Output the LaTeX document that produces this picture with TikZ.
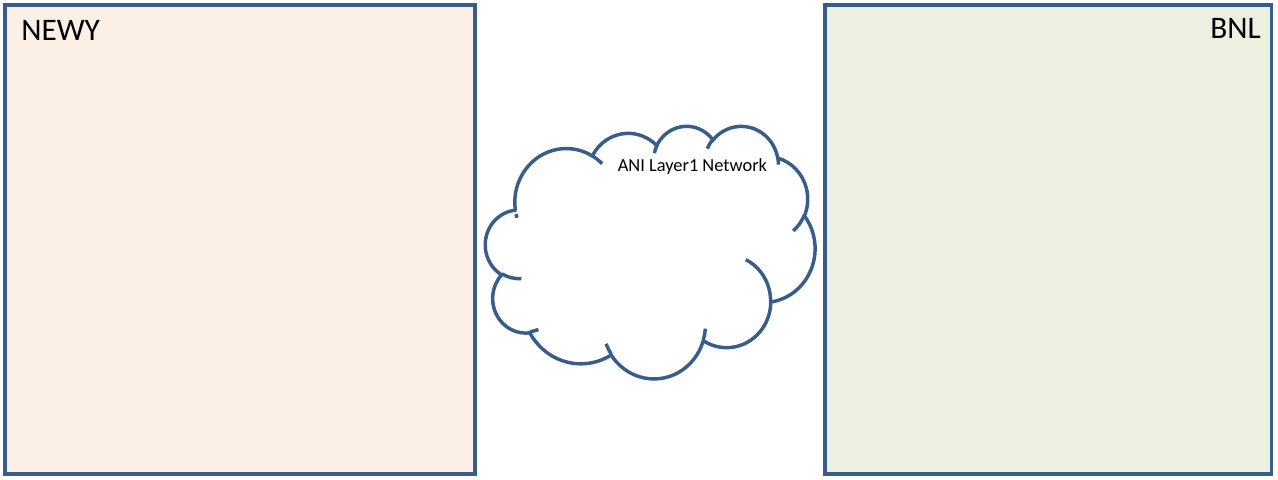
\documentclass[tikz,border=0pt]{standalone}
\usepackage{fontspec}
\setmainfont{Carlito}
\usepackage{tikz}
\usetikzlibrary{
  positioning,
}
\definecolor{siteline}{HTML}{385D8A}
\definecolor{newyfill}{HTML}{FCEFE6}
\definecolor{bnlfill}{HTML}{EBF0E1}
% OOXML arc: radii, visual start angle, sweep -> TikZ arc
\newcommand{\cloudarc}[4]{
  \pgfextra{
    \pgfmathsetmacro\cas{atan2(#1*sin(#3),#2*cos(#3))}
    \pgfmathsetmacro\cad{mod(atan2(#1*sin(#3+#4),#2*cos(#3+#4))-\cas+720,360)}
    \global\let\cas\cas
    \global\let\cad\cad
  }
  arc[start angle=\cas, delta angle=\cad, x radius=#1, y radius=#2]
}
\tikzset{
  font=\fontsize{23.5}{28}\selectfont,
  site/.style={
    draw=siteline,
    line width=2.4pt,
    inner sep=0pt,
    minimum width=352.5pt,
    minimum height=351.75pt,
    rectangle
  },
  site label/.style={
    inner sep=0pt,
    text=black
  },
  cloud line/.style={
    draw=siteline,
    line width=2.6pt
  }
}
\begin{document}
\begin{tikzpicture}[x=0.75pt,y=-0.75pt]
\useasboundingbox (0,0) rectangle (1278,479);
\node[site,fill=newyfill] (newy) at (240,239.5)  {};
\node[site,fill=bnlfill,minimum width=334.9pt] (bnl) at (1048.25,239.5) {};
\node[site label,anchor=base west] (newy label) at (21,40.5) {NEWY};
\node[site label,anchor=base east] (bnl label)  at (1261,38.5) {BNL};
% cloud, path units of 1/100 of the OOXML 43200 box
\begin{scope}[shift={(485.5,125.5)},x=0.572pt,y=-0.4384pt]
  \path[cloud line,fill=white] (39.00,143.70)
    \cloudarc{67.53}{91.90}{-190.4875}{123.7805}
    \cloudarc{53.33}{72.67}{-144.1024}{89.9452}
    \cloudarc{43.65}{59.45}{-145.8079}{99.7230}
    \cloudarc{48.57}{65.95}{-130.9861}{117.2417}
    \cloudarc{53.33}{72.73}{-78.7089}{109.0269}
    \cloudarc{67.75}{92.20}{-46.2673}{130.2690}
    \cloudarc{57.85}{78.67}{0.6250}{114.0333}
    \cloudarc{67.52}{92.15}{22.4516}{115.1726}
    \cloudarc{77.20}{105.43}{66.2426}{75.7110}
    \cloudarc{43.60}{59.18}{-274.9421}{146.7356}
    \cloudarc{43.45}{59.45}{-246.8285}{152.5189}
    -- cycle;
  \path[cloud line]
    (46.93,261.77)  \cloudarc{43.45}{59.45}{86.7420}{26.4295}
    (69.28,348.99)  \cloudarc{43.60}{59.18}{73.6105}{11.4475}
    (164.78,390.90) \cloudarc{67.52}{92.15}{137.6242}{14.0811}
    (288.27,347.51) \cloudarc{67.52}{92.15}{6.4533}{15.9984}
    (341.29,229.54) \cloudarc{57.85}{78.67}{-70.2924}{70.9174}
    (417.98,153.54) \cloudarc{53.33}{72.73}{30.3180}{27.7515}
    (383.24,54.26)  \cloudarc{48.57}{65.95}{-13.7443}{14.8589}
    (290.78,39.52)  \cloudarc{48.57}{65.95}{-149.1815}{18.1954}
    (221.41,47.20)  \cloudarc{43.65}{59.45}{-163.4943}{17.6864}
    (140.00,51.92)  \cloudarc{67.53}{91.90}{-66.7070}{12.3194}
    (41.27,157.89)  \cloudarc{67.53}{91.90}{156.6254}{5.3211};
\end{scope}
\node[site label,anchor=base west,font=\fontsize{13.8}{16}\selectfont] (ani) at (617.5,171.5) {ANI Layer1 Network};
\end{tikzpicture}
\end{document}
